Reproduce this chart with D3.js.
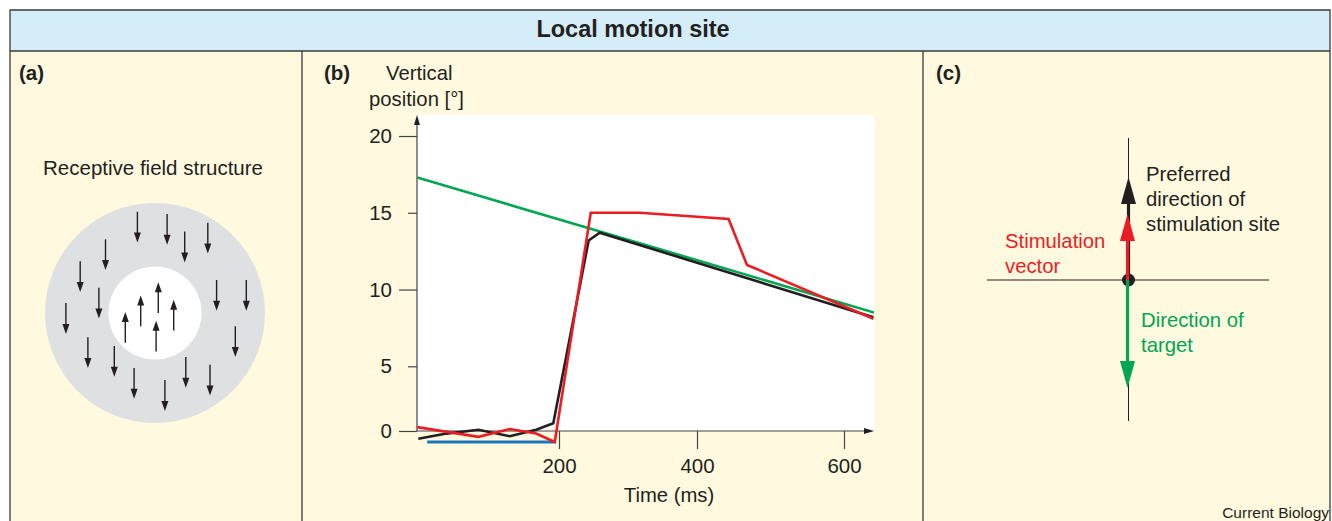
<!DOCTYPE html>
<html>
<head>
<meta charset="utf-8">
<script src="https://cdn.jsdelivr.net/npm/d3@7"></script>
<style>
  body { margin: 0; background: #fff; }
  svg { display: block; font-family: "Liberation Sans", Arial, sans-serif; }
  text { fill: #231f20; }
</style>
</head>
<body>
<div id="fig"></div>
<script>
// page size
let svg_width = 1332;
let svg_height = 521;

// colours
let cream = '#fffadf';
let blue_bar = '#d5ecf9';
let ink = '#231f20';
let red = '#ec1c24';
let green = '#00a651';

let fs = 20.3;   // body text size

// ---------------- data ----------------
// panel (b): time in ms, vertical position in degrees
let target_time = [1, 641];
let target_pos = [17.3, 8.5];

let eye_time = [2.5, 42, 87, 131, 168, 192, 243, 259, 640];
let eye_pos = [-0.6, -0.2, 0.1, -0.4, 0.1, 0.6, 13.2, 13.7, 8.2];

let stim_time = [1, 87, 131, 168, 194, 246, 317, 443, 468, 640];
let stim_pos = [0.3, -0.45, 0.15, -0.2, -0.85, 15.0, 15.0, 14.6, 11.6, 8.1];

let pulse_time = [15, 194];
let pulse_pos = [-0.85, -0.85];

let y_ticks = [0, 5, 10, 15, 20];
let x_ticks = [200, 400, 600];

// panel (a): arrows in receptive field units (centre 0,0, radius 1)
let surround_x = [-0.16, 0.11, 0.27, 0.48, -0.45, -0.68, -0.51, -0.81, 0.56, 0.83, 0.73, -0.61, -0.37, -0.19, 0.09, 0.28, 0.50];
let surround_y = [-0.78, -0.76, -0.60, -0.68, -0.53, -0.33, -0.09, 0.05, -0.16, -0.16, 0.26, 0.36, 0.44, 0.64, 0.75, 0.54, 0.61];
let centre_x = [0.03, -0.13, 0.17, -0.27, 0.01];
let centre_y = [-0.14, -0.02, 0.02, 0.13, 0.21];

// panel (c): vector lengths (preferred, stimulation, target), signed up
let vec_names = ['preferred', 'stimulation', 'target'];
let vec_len = [1.0, 0.65, -1.0];
let vec_cols = [ink, red, green];

// ================================================
let svg = d3.select('#fig')
            .append('svg')
            .attr('width', svg_width)
            .attr('height', svg_height);

// frame and panels
let frame_left = 10, frame_top = 10, frame_right = 1330, title_bottom = 51;
let div_b = 302, div_c = 923;

svg.append('rect')
    .attr('x', frame_left).attr('y', frame_top)
    .attr('width', frame_right - frame_left).attr('height', svg_height)
    .attr('fill', cream);
svg.append('rect')
    .attr('x', frame_left).attr('y', frame_top)
    .attr('width', frame_right - frame_left).attr('height', title_bottom - frame_top)
    .attr('fill', blue_bar);

let frame = svg.append('g').attr('stroke', '#3a3a3a').attr('stroke-width', 1.3).attr('fill', 'none');
frame.append('path').attr('d', `M${frame_left},${svg_height} V${frame_top} H${frame_right} V${svg_height}`);
frame.append('line').attr('x1', frame_left).attr('x2', frame_right).attr('y1', title_bottom).attr('y2', title_bottom);
frame.append('line').attr('x1', div_b).attr('x2', div_b).attr('y1', title_bottom).attr('y2', svg_height);
frame.append('line').attr('x1', div_c).attr('x2', div_c).attr('y1', title_bottom).attr('y2', svg_height);

svg.append('text')
    .attr('x', 633).attr('y', 37)
    .attr('text-anchor', 'middle')
    .attr('font-weight', 'bold').attr('font-size', 23.5)
    .text('Local motion site');

svg.append('text').attr('x', 19).attr('y', 80).attr('font-weight', 'bold').attr('font-size', 20.5).text('(a)');
svg.append('text').attr('x', 324).attr('y', 80).attr('font-weight', 'bold').attr('font-size', 20.5).text('(b)');
svg.append('text').attr('x', 936).attr('y', 80).attr('font-weight', 'bold').attr('font-size', 20.5).text('(c)');

svg.append('text')
    .attr('x', 1329).attr('y', 518)
    .attr('text-anchor', 'end').attr('font-size', 15.5)
    .text('Current Biology');

// helper: triangle head pointing up (dir=-1) or down (dir=1) with tip at (x,y)
function headPath(x, y, dir, w, h) {
    return `M${x},${y} L${x - w / 2},${y - dir * h} L${x + w / 2},${y - dir * h} Z`;
}

// ---------------- panel (a) ----------------
let rf_cx = 155, rf_cy = 313, rf_r = 110;
let fx = d3.scaleLinear().domain([-1, 1]).range([rf_cx - rf_r, rf_cx + rf_r]);
let fy = d3.scaleLinear().domain([-1, 1]).range([rf_cy - rf_r, rf_cy + rf_r]);

svg.append('text')
    .attr('x', 153).attr('y', 175)
    .attr('text-anchor', 'middle').attr('font-size', 20.5)
    .text('Receptive field structure');

svg.append('circle').attr('cx', fx(0)).attr('cy', fy(0)).attr('r', fx(1) - fx(0)).attr('fill', '#dfe0e2');
svg.append('circle').attr('cx', fx(0)).attr('cy', fy(0)).attr('r', fx(0.423) - fx(0)).attr('fill', '#fff');

let arrow_half = fy(0.14) - fy(0);

function fieldArrows(xs, ys, dir) {
    let g = svg.append('g');
    let pts = d3.zip(xs, ys);
    g.selectAll('line')
        .data(pts)
        .enter()
        .append('line')
        .attr('x1', d => fx(d[0])).attr('x2', d => fx(d[0]))
        .attr('y1', d => fy(d[1]) - dir * arrow_half)
        .attr('y2', d => fy(d[1]) + dir * (arrow_half - 6))
        .attr('stroke', ink).attr('stroke-width', 1.4);
    g.selectAll('path')
        .data(pts)
        .enter()
        .append('path')
        .attr('d', d => headPath(fx(d[0]), fy(d[1]) + dir * arrow_half, dir, 7, 10))
        .attr('fill', ink);
}
fieldArrows(surround_x, surround_y, 1);
fieldArrows(centre_x, centre_y, -1);

// ---------------- panel (b) ----------------
// the printed axes are not quite evenly spaced, so both scales are piecewise
let x_scale = d3.scaleLinear().domain([0, 200, 400, 600]).range([416.5, 559, 697, 844]);
let y_scale = d3.scaleLinear().domain([0, 5, 20]).range([431, 366.3, 136]);

let plot_left = 417, plot_right = 874, plot_top = 115, plot_bottom = 431;

svg.append('rect')
    .attr('x', plot_left).attr('y', plot_top)
    .attr('width', plot_right - plot_left).attr('height', plot_bottom - plot_top)
    .attr('fill', '#fff');

svg.append('text').attr('x', 386).attr('y', 80).attr('font-size', fs).text('Vertical');
svg.append('text').attr('x', 369).attr('y', 106).attr('font-size', fs).text('position [°]');

// y axis
let y_axis = svg.append('g')
    .attr('transform', `translate(${plot_left},0)`)
    .call(d3.axisLeft(y_scale).tickValues(y_ticks).tickSize(18).tickPadding(7));
y_axis.select('.domain').remove();
y_axis.selectAll('.tick line')
    .attr('x2', d => d % 10 === 0 ? -18 : -9)
    .attr('stroke', '#444').attr('stroke-width', 1.2);
y_axis.selectAll('.tick text')
    .attr('x', -25)
    .attr('font-size', 20.5).attr('font-family', null).attr('fill', ink);

// x axis
let x_axis = svg.append('g')
    .attr('transform', `translate(0,${plot_bottom})`)
    .call(d3.axisBottom(x_scale).tickValues(x_ticks).tickSize(18).tickPadding(9));
x_axis.select('.domain').remove();
x_axis.selectAll('.tick line').attr('stroke', '#444').attr('stroke-width', 1.2);
x_axis.selectAll('.tick text').attr('font-size', 20.5).attr('font-family', null).attr('fill', ink);

// axis lines with arrow heads
svg.append('line')
    .attr('x1', plot_left).attr('x2', plot_left)
    .attr('y1', plot_bottom).attr('y2', 120)
    .attr('stroke', '#444').attr('stroke-width', 1.2);
svg.append('path').attr('d', headPath(plot_left, 115, -1, 6, 10)).attr('fill', ink);
svg.append('line')
    .attr('x1', plot_left).attr('x2', 868)
    .attr('y1', plot_bottom).attr('y2', plot_bottom)
    .attr('stroke', '#444').attr('stroke-width', 1.2);
svg.append('path').attr('d', `M874,${plot_bottom} L864,${plot_bottom - 3} L864,${plot_bottom + 3} Z`).attr('fill', ink);

svg.append('text')
    .attr('x', 669).attr('y', 502)
    .attr('text-anchor', 'middle').attr('font-size', fs)
    .text('Time (ms)');

let line_gen = d3.line()
    .x(d => x_scale(d[0]))
    .y(d => y_scale(d[1]));

let series = [
    { t: pulse_time, v: pulse_pos, col: '#1b75bb', w: 3 },
    { t: target_time, v: target_pos, col: green, w: 2.6 },
    { t: eye_time, v: eye_pos, col: ink, w: 2.6 },
    { t: stim_time, v: stim_pos, col: red, w: 2.6 }
];

svg.append('clipPath').attr('id', 'plotclip')
    .append('rect')
    .attr('x', plot_left).attr('y', plot_top)
    .attr('width', plot_right - plot_left).attr('height', 340);

svg.append('g')
    .attr('clip-path', 'url(#plotclip)')
    .selectAll('path')
    .data(series)
    .enter()
    .append('path')
    .attr('d', d => line_gen(d3.zip(d.t, d.v)))
    .attr('fill', 'none')
    .attr('stroke', d => d.col)
    .attr('stroke-width', d => d.w)
    .attr('stroke-linejoin', 'miter');

// ---------------- panel (c) ----------------
let c_x = 1128.5, c_y = 280;
let v_scale = d3.scaleLinear().domain([-1, 1]).range([c_y + 108, c_y - 103]);

svg.append('line').attr('x1', c_x).attr('x2', c_x).attr('y1', 138).attr('y2', 421)
    .attr('stroke', ink).attr('stroke-width', 1);
svg.append('line').attr('x1', 987).attr('x2', 1269).attr('y1', c_y).attr('y2', c_y)
    .attr('stroke', ink).attr('stroke-width', 1);

let vec_g = svg.append('g');
vec_g.selectAll('line')
    .data(vec_len)
    .enter()
    .append('line')
    .attr('x1', (d, i) => i === 0 ? c_x : c_x - 1)
    .attr('x2', (d, i) => i === 0 ? c_x : c_x - 1)
    .attr('y1', c_y)
    .attr('y2', d => v_scale(d) + (d > 0 ? 20 : -20))
    .attr('stroke', (d, i) => vec_cols[i])
    .attr('stroke-width', 3.2);
vec_g.selectAll('path')
    .data(vec_len)
    .enter()
    .append('path')
    .attr('d', (d, i) => headPath(i === 0 ? c_x : c_x - 1, v_scale(d), d > 0 ? -1 : 1, 15, 27))
    .attr('fill', (d, i) => vec_cols[i]);

svg.append('circle').attr('cx', c_x).attr('cy', c_y).attr('r', 6.5).attr('fill', ink);
// coloured shafts sit over the dot
svg.append('line').attr('x1', c_x - 1).attr('x2', c_x - 1).attr('y1', c_y).attr('y2', c_y + 10)
    .attr('stroke', green).attr('stroke-width', 3);
svg.append('line').attr('x1', c_x - 1).attr('x2', c_x - 1).attr('y1', c_y).attr('y2', c_y - 8)
    .attr('stroke', red).attr('stroke-width', 3);

function textLines(lines, x, y0, col) {
    svg.append('g').selectAll('text')
        .data(lines)
        .enter()
        .append('text')
        .attr('x', x)
        .attr('y', (d, i) => y0 + i * 25)
        .attr('font-size', fs)
        .style('fill', col)
        .text(d => d);
}
textLines(['Preferred', 'direction of', 'stimulation site'], 1146, 181, ink);
textLines(['Stimulation', 'vector'], 1005, 248, red);
textLines(['Direction of', 'target'], 1141, 327, green);
</script>
</body>
</html>
